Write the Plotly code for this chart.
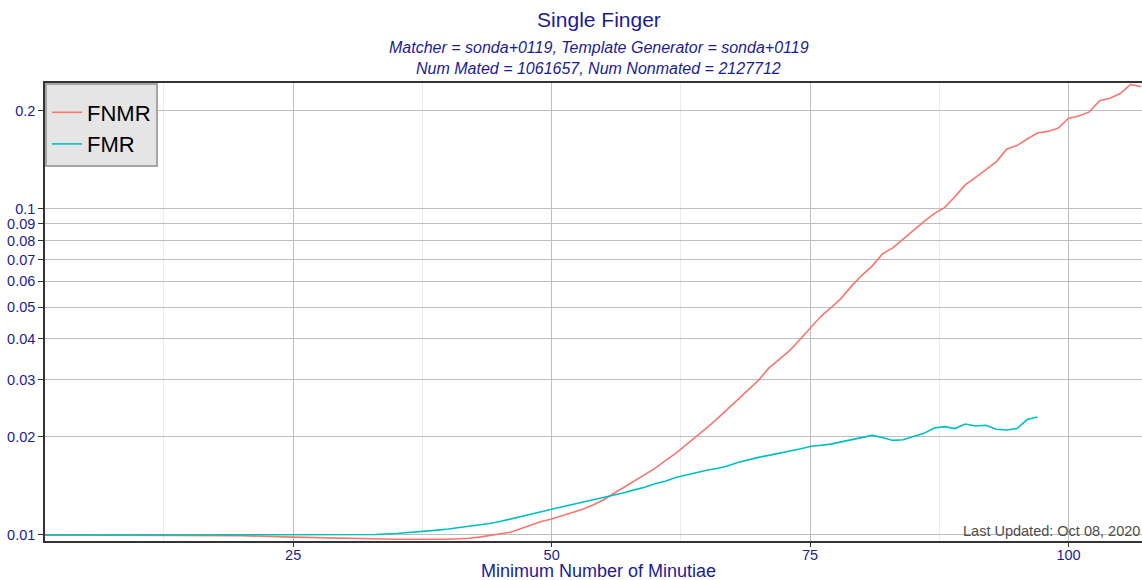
import plotly.graph_objects as go

# Minimum number of minutiae (x) and the error rates measured at each threshold
fnmr_x = [1, 5, 10, 15, 20, 25, 30, 35, 40, 41, 42, 43, 44, 45, 46, 47, 48, 49,
          50, 51, 52, 53, 54, 55, 56, 57, 58, 59, 60, 61, 62, 63, 64, 65, 66, 67,
          68, 69, 70, 71, 72, 73, 74, 75, 76, 77, 78, 79, 80, 81, 82, 83, 84, 85,
          86, 87, 88, 89, 90, 91, 92, 93, 94, 95, 96, 97, 98, 99, 100, 101, 102,
          103, 104, 105, 106, 107]
fnmr = [0.0100, 0.0100, 0.0100, 0.00998, 0.00995, 0.00985, 0.00975, 0.0097, 0.0097,
        0.00972, 0.00977, 0.00985, 0.00995, 0.01007, 0.0102, 0.01045, 0.0107, 0.0110,
        0.0112, 0.01145, 0.0117, 0.0120, 0.01236, 0.0128, 0.0134, 0.0140, 0.0146,
        0.0153, 0.0160, 0.0169, 0.0178, 0.0189, 0.0200, 0.0213, 0.0227, 0.0243,
        0.0259, 0.0277, 0.0298, 0.0325, 0.0345, 0.0367, 0.0397, 0.0431, 0.0467,
        0.0497, 0.0532, 0.0580, 0.0626, 0.0668, 0.0728, 0.0760, 0.0810, 0.0862,
        0.0915, 0.0968, 0.1010, 0.1090, 0.1185, 0.1250, 0.1320, 0.1395, 0.1525,
        0.1565, 0.1640, 0.1710, 0.1730, 0.1770, 0.1900, 0.1930, 0.1985, 0.2150,
        0.2185, 0.2260, 0.2410, 0.2370]

fmr_x = [1, 5, 10, 15, 20, 25, 30, 33, 35, 36, 37, 38, 39, 40, 41, 42, 43, 44, 45,
         46, 47, 48, 49, 50, 51, 52, 53, 54, 55, 56, 57, 58, 59, 60, 61, 62, 63, 64,
         65, 66, 67, 68, 69, 70, 71, 72, 73, 74, 75, 76, 77, 78, 79, 80, 81, 82, 83,
         84, 85, 86, 87, 88, 89, 90, 91, 92, 93, 94, 95, 96, 97]
fmr = [0.0100, 0.0100, 0.0100, 0.0100, 0.0100, 0.0100, 0.0100, 0.01003, 0.0101,
       0.01015, 0.0102, 0.01028, 0.01035, 0.01043, 0.01052, 0.01062, 0.01073,
       0.01085, 0.0110, 0.01118, 0.01135, 0.01155, 0.01178, 0.0120, 0.0122, 0.01238,
       0.01258, 0.01278, 0.0130, 0.01325, 0.01348, 0.01375, 0.0140, 0.01435,
       0.01462, 0.0150, 0.01528, 0.01555, 0.0158, 0.0160, 0.01628, 0.01668, 0.0170,
       0.0173, 0.01755, 0.0178, 0.01808, 0.01835, 0.01868, 0.01885, 0.0190, 0.0193,
       0.0196, 0.0199, 0.0202, 0.0199, 0.0195, 0.0196, 0.0200, 0.0205, 0.0213,
       0.0215, 0.0212, 0.0219, 0.0216, 0.0217, 0.0211, 0.0210, 0.0212, 0.0226, 0.0230]

y_tickvals = [0.01, 0.02, 0.03, 0.04, 0.05, 0.06, 0.07, 0.08, 0.09, 0.1, 0.2]
y_ticktext = ["0.01", "0.02", "0.03", "0.04", "0.05", "0.06", "0.07", "0.08", "0.09", "0.1", "0.2"]
x_tickvals = [25, 50, 75, 100]
x_minor = [12.5, 37.5, 62.5, 87.5]

NAVY = "#1c1c96"
FONT = "Liberation Sans, Arial, sans-serif"
TITLE_X = 0.505

fig = go.Figure()
fig.add_trace(go.Scatter(x=fnmr_x, y=fnmr, mode="lines", name="FNMR",
                         line=dict(color="#F8766D", width=1.6)))
fig.add_trace(go.Scatter(x=fmr_x, y=fmr, mode="lines", name="FMR",
                         line=dict(color="#00BFC4", width=1.6)))

fig.update_layout(
    width=1142, height=580,
    margin=dict(l=45, r=0, t=83, b=39),
    paper_bgcolor="white", plot_bgcolor="white",
    font=dict(family=FONT, color=NAVY),
    showlegend=True,
    legend=dict(x=0, y=1, xanchor="left", yanchor="top",
                bgcolor="#e5e5e5", bordercolor="#a6a6a6", borderwidth=2,
                font=dict(size=22, color="black", family=FONT),
                title=dict(text=" ", font=dict(size=5)),
                itemwidth=30, tracegroupgap=0),
    title=dict(text="Single Finger", x=TITLE_X, xref="paper", xanchor="center",
               y=1 - 20 / 580, yanchor="middle",
               font=dict(size=21, color=NAVY, family=FONT)),
)

fig.update_xaxes(
    range=[1.0, 107.1],
    tickvals=x_tickvals, ticktext=[str(v) for v in x_tickvals],
    ticks="outside", ticklen=4, tickcolor="#333333", tickwidth=1,
    tickfont=dict(size=14.5, color=NAVY),
    ticklabelstandoff=-4,
    showgrid=True, gridcolor="#bebebe", gridwidth=1.4,
    minor=dict(tickvals=x_minor, showgrid=True, gridcolor="#ebebeb", gridwidth=1.2, ticks=""),
    showline=True, linecolor="#333333", linewidth=1.5, mirror=True,
    zeroline=False,
)
fig.update_yaxes(
    type="log",
    range=[-2.0185, -0.6135],
    tickvals=y_tickvals, ticktext=y_ticktext,
    ticks="outside", ticklen=5, tickcolor="#333333", tickwidth=1,
    tickfont=dict(size=14.5, color=NAVY),
    showgrid=True, gridcolor="#bebebe", gridwidth=1.4,
    showline=True, linecolor="#333333", linewidth=1.5,
    zeroline=False,
)

fig.add_annotation(text="<i>Matcher = sonda+0119, Template Generator = sonda+0119</i>",
                   xref="paper", yref="paper", x=TITLE_X, y=(541 - 48) / 458,
                   yanchor="middle", showarrow=False,
                   font=dict(size=16, color=NAVY, family=FONT))
fig.add_annotation(text="<i>Num Mated = 1061657, Num Nonmated = 2127712</i>",
                   xref="paper", yref="paper", x=TITLE_X, y=(541 - 68) / 458,
                   yanchor="middle", showarrow=False,
                   font=dict(size=16, color=NAVY, family=FONT))
fig.add_annotation(text="Minimum Number of Minutiae",
                   xref="paper", yref="paper", x=TITLE_X, y=(541 - 571) / 458,
                   yanchor="middle", showarrow=False,
                   font=dict(size=18, color=NAVY, family=FONT))
fig.add_annotation(text="Last Updated: Oct 08, 2020",
                   xref="paper", yref="paper", x=1, y=0,
                   xanchor="right", yanchor="bottom", showarrow=False,
                   font=dict(size=14.5, color="#4d4d4d", family=FONT))

fig.write_html("out.html")
